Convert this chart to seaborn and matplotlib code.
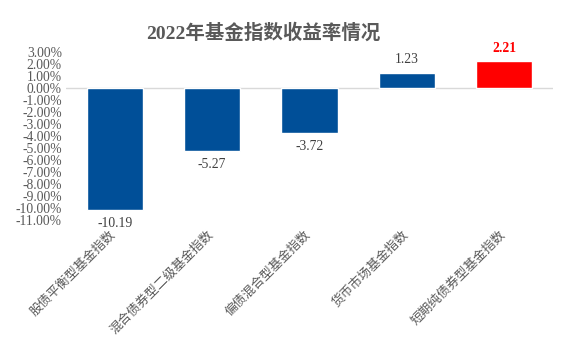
import matplotlib
matplotlib.use("Agg")
import matplotlib.pyplot as plt
import matplotlib.transforms as mtransforms
import seaborn as sns
import pandas as pd

categories = ["股债平衡型基金指数", "混合债券型二级基金指数", "偏债混合型基金指数", "货币市场基金指数", "短期纯债券型基金指数"]
values = [-10.19, -5.27, -3.72, 1.23, 2.21]
bar_colors = ["#004F98", "#004F98", "#004F98", "#004F98", "#FF0000"]
yticks = list(range(3, -12, -1))
title = "2022年基金指数收益率情况"

sns.set_theme(style="white")
plt.rcParams["font.family"] = ["Liberation Serif", "Noto Sans CJK SC"]

df = pd.DataFrame({"cat": categories, "val": values})

fig = plt.figure(figsize=(5.68, 3.41), dpi=100)
ax = fig.add_axes([66/568, 1-220/341, (553-66)/568, (220-52)/341])

sns.barplot(data=df, x="cat", y="val", hue="cat", palette=bar_colors, width=0.575,
            legend=False, ax=ax, saturation=1)

ax.set_ylim(-11, 3)
ax.set_xlim(-0.5, len(categories) - 0.5)
ax.set_yticks(yticks)
ax.set_yticklabels([f"{v:.2f}%" for v in yticks], fontsize=9.8, color="#595959")
ax.tick_params(axis="y", length=0, pad=3)
ax.tick_params(axis="x", length=0, pad=6)
ax.set_xticks(range(len(categories)))
ax.set_xticklabels(categories, rotation=45, ha="right", rotation_mode="anchor",
                   fontsize=9.2, color="#595959")
offset = mtransforms.ScaledTranslation(-5/100, 0/100, fig.dpi_scale_trans)
for lab in ax.get_xticklabels():
    lab.set_transform(lab.get_transform() + offset)
for s in ax.spines.values():
    s.set_visible(False)
ax.axhline(0, color="#D9D9D9", lw=1, zorder=0)
ax.set_xlabel("")
ax.set_ylabel("")

for i, c in enumerate(ax.containers):
    labels = ax.bar_label(c, fmt="%.2f", padding=5, fontsize=9.8, color="#404040")
    for t in labels:
        if t.get_text() == "2.21":
            t.set_color("#FF0000")
            t.set_fontweight("bold")

fig.text(263/568, 1-33/341, title, ha="center", va="center", fontsize=14,
         fontweight="bold", color="#595959")

fig.savefig("out.png", dpi=100)
